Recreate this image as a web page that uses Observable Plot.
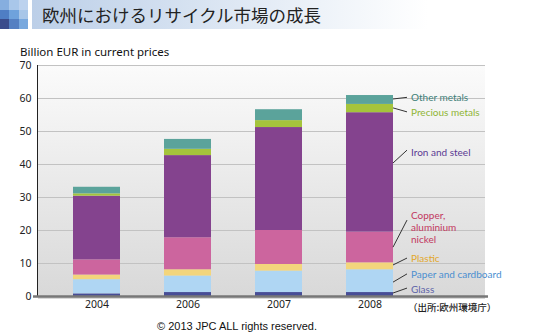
<!DOCTYPE html>
<html><head><meta charset="utf-8">
<script src="https://cdn.jsdelivr.net/npm/d3@7"></script>
<script src="https://cdn.jsdelivr.net/npm/@observablehq/plot@0.6"></script>
<style>
body{margin:0;background:#fff;}
#wrap{position:relative;width:560px;height:335px;overflow:hidden;font-family:"Noto Sans",sans-serif;color:#222;}
#chart{position:absolute;left:0;top:40px;}
#mosaic{position:absolute;left:0;top:0;width:28px;height:29px;display:grid;grid-template-columns:repeat(3,1fr);grid-template-rows:repeat(3,1fr);}
#band{position:absolute;left:32px;top:0;width:528px;height:29px;background:linear-gradient(to right,#bccfe8 0%,#d6e2f1 30%,#eef3f9 55%,#ffffff 75%);}
#title{position:absolute;left:42px;top:0;height:30px;line-height:30px;font-family:"Noto Sans CJK JP",sans-serif;font-size:17.5px;color:#222;white-space:nowrap;}
#ytitle{position:absolute;left:20px;top:44px;font-size:11.5px;color:#111;white-space:nowrap;}
#source{position:absolute;left:408px;top:300px;font-family:"Noto Sans CJK JP",sans-serif;font-size:9.5px;font-weight:500;color:#222;white-space:nowrap;}
#copy{position:absolute;left:157px;top:320px;font-family:"Liberation Sans",Arial,sans-serif;font-size:11px;color:#111;white-space:nowrap;}
</style></head><body>
<div id="wrap">
  <div id="chart"></div>
  <div id="mosaic"></div>
  <div id="band"></div>
  <div id="title">欧州におけるリサイクル市場の成長</div>
  <div id="ytitle">Billion EUR in current prices</div>
  <div id="source">（出所:欧州環境庁）</div>
  <div id="copy">© 2013 JPC ALL rights reserved.</div>
</div>
<script>
// ---- data ----
const years = ["2004", "2006", "2007", "2008"];
const categories = ["Glass", "Paper and cardboard", "Plastic", "Copper, aluminium nickel", "Iron and steel", "Precious metals", "Other metals"];
const glass    = [0.8, 1.2, 1.2, 1.2];
const paper    = [4.3, 5.0, 6.5, 6.9];
const plastic  = [1.4, 1.9, 2.0, 2.1];
const copper   = [4.6, 9.7, 10.3, 9.3];
const iron     = [19.3, 24.9, 31.2, 36.2];
const precious = [0.7, 1.9, 2.1, 2.5];
const other    = [2.0, 3.0, 3.3, 2.7];
const yTicks = [0, 10, 20, 30, 40, 50, 60, 70];

// labels at right of last bar
const labelNames = ["Other metals", "Precious metals", "Iron and steel", "Copper,\naluminium\nnickel", "Plastic", "Paper and cardboard", "Glass"];
const labelAt    = [60.4, 55.8, 43.7, 21.0, 11.6, 6.9, 2.2];
const leaderFrom = [59.7, 57.0, 40.3, 14.8, 9.4, 4.2, 0.9];
const leaderTo   = [60.2, 55.8, 44.2, 23.0, 11.5, 6.7, 2.4];

// ---- styles ----
const barColors = ["#474d96", "#afd6f3", "#f3d57c", "#cc659e", "#84438e", "#a5c43c", "#5ba39b"];
const labelColors = ["#3d7f78", "#8fb434", "#5b3a93", "#c2385f", "#e3a82b", "#4b8fd0", "#5e63a8"];
const mosaicColors = ["#86aedf","#a9c7ea","#bcd2ee","#4f7ec4","#6fa2dc","#a8c6e8","#3a4c8c","#5580c2","#78a8de"];

const mosaic = document.getElementById("mosaic");
mosaicColors.forEach(c => { const d = document.createElement("div"); d.style.background = c; mosaic.appendChild(d); });

const series = [glass, paper, plastic, copper, iron, precious, other];
const rows = [];
series.forEach((vals, i) => years.forEach((yr, j) => rows.push({year: yr, cat: categories[i], value: vals[j]})));
const lastYear = years[years.length - 1];

const background = (index, scales, values, dims) => {
  const {width, height, marginLeft, marginRight, marginTop, marginBottom} = dims;
  const g = d3.create("svg:g");
  const lg = g.append("defs").append("linearGradient").attr("id", "plotbg")
    .attr("x1", 0).attr("y1", 0).attr("x2", 0).attr("y2", 1);
  lg.append("stop").attr("offset", "0%").attr("stop-color", "#fbfbfb");
  lg.append("stop").attr("offset", "100%").attr("stop-color", "#d8d8d8");
  g.append("rect").attr("x", marginLeft).attr("y", marginTop)
    .attr("width", width - marginLeft - marginRight)
    .attr("height", height - marginTop - marginBottom + 3)
    .attr("fill", "url(#plotbg)");
  return g.node();
};

const yAxisLine = (index, scales, values, dims) => {
  const {height, marginLeft, marginTop, marginBottom} = dims;
  const g = d3.create("svg:g");
  g.append("line").attr("x1", marginLeft - 0.5).attr("x2", marginLeft - 0.5)
    .attr("y1", marginTop).attr("y2", height - marginBottom)
    .attr("stroke", "#222").attr("stroke-width", 1);
  return g.node();
};

const leaders = (index, scales, values, dims) => {
  const x = scales.x, y = scales.y;
  const bw = typeof x.bandwidth === "function" ? x.bandwidth() : 0;
  const x0 = x(lastYear) + bw;
  const g = d3.create("svg:g").attr("stroke", "#333").attr("stroke-width", 1).attr("fill", "none");
  labelNames.forEach((n, i) => {
    g.append("line").attr("x1", x0).attr("y1", y(leaderFrom[i]))
      .attr("x2", x0 + 14).attr("y2", y(leaderTo[i]));
  });
  return g.node();
};

const labelMarks = labelNames.map((n, i) =>
  Plot.text([{year: lastYear, v: labelAt[i], t: n}], {
    x: "year", y: "v", text: "t", fill: labelColors[i], textAnchor: "start",
    dx: 41, fontSize: 10, lineHeight: 1.2, fontFamily: "Lato, 'Noto Sans', sans-serif"
  })
);

const chart = Plot.plot({
  width: 560, height: 295,
  marginTop: 25, marginBottom: 39, marginLeft: 38, marginRight: 75,
  style: {background: "transparent", fontFamily: "'Noto Sans', sans-serif", fontSize: "10.5px", color: "#222", overflow: "visible"},
  x: {domain: years, range: [28, 439], padding: 0.48, label: null, tickSize: 0, tickPadding: 4},
  y: {domain: [0, 70], ticks: yTicks, label: null, tickSize: 0, tickPadding: 7, tickFormat: d => String(d)},
  color: {domain: categories, range: barColors},
  marks: [
    background,
    Plot.ruleY(yTicks.filter(d => d > 0), {stroke: "#c2c2c2", strokeWidth: 1}),
    Plot.barY(rows, {x: "year", y: "value", fill: "cat"}),
    yAxisLine,
    Plot.ruleY([0], {stroke: "#777", strokeWidth: 2.5, insetLeft: -5, insetRight: -3}),
    leaders,
    ...labelMarks
  ]
});
document.getElementById("chart").appendChild(chart);
</script>
</body></html>
